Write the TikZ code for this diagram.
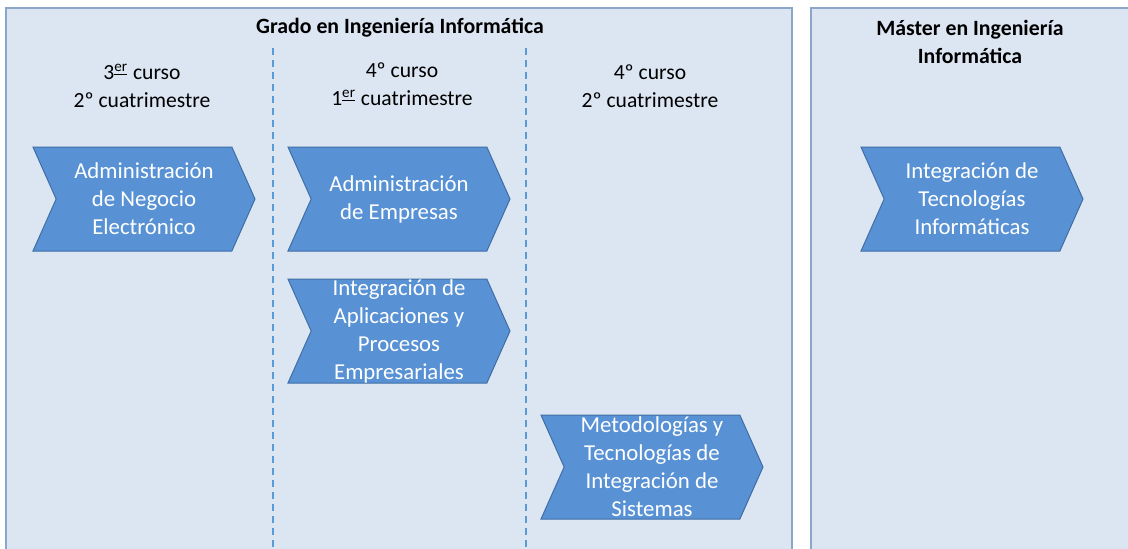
\documentclass[tikz,border=0pt]{standalone}
\usepackage{fontspec}
\setmainfont{Carlito}
\usepackage{xcolor}
\usetikzlibrary{shapes.symbols, positioning, calc}

\definecolor{panelfill}{RGB}{220,230,242}
\definecolor{panelline}{RGB}{140,166,200}
\definecolor{chevfill}{RGB}{88,146,213}
\definecolor{chevline}{RGB}{64,110,165}
\definecolor{sepline}{RGB}{91,155,213}

\tikzset{
  chevron/.style={signal, signal to=east, signal from=west, signal pointer angle=132,
    fill=chevfill, draw=chevline, line width=0.5pt, text=white,
    minimum width=111pt, minimum height=52pt, inner sep=0pt,
    align=center, font=\fontsize{11.4}{14}\selectfont},
  header/.style={align=center, font=\fontsize{10.8}{14}\selectfont},
  panel/.style={fill=panelfill, draw=panelline, line width=0.8pt}
}
\newcommand{\ord}[1]{\textsuperscript{\underline{#1}}}

\begin{document}
\begin{tikzpicture}[x=0.5pt, y=-0.5pt]
\clip (0,0) rectangle (1128,548);
\fill[white] (0,0) rectangle (1128,548);

% Panels
\draw[panel] (6,8) rectangle (792,560);
\draw[panel] (811,8) rectangle (1140,560);

% Separators between semesters
\foreach \x in {273,526} {
    \draw[sepline, line width=1pt, dash pattern=on 3.5pt off 2.5pt] (\x,48) -- (\x,548);
}

% Titles
\node[font=\fontsize{10.9}{14}\selectfont\bfseries] (grado) at (400,28) {Grado en Ingeniería Informática};
\node[align=center, font=\fontsize{10.9}{14}\selectfont\bfseries] (master) at (970,42) {Máster en Ingeniería\\Informática};

% Column headers
\node[header] (sem1) at (142,86) {3\ord{er} curso\\2º cuatrimestre};
\node[header] (sem2) at (402,84) {4º curso\\1\ord{er} cuatrimestre};
\node[header] (sem3) at (650,86) {4º curso\\2º cuatrimestre};

% Subjects
\node[chevron] (ane) at (144,199) {Administración\\de Negocio\\Electrónico};
\node[chevron] (ade) at (399,199) {Administración\\de Empresas};
\node[chevron] (iape) at (399,331) {Integración de\\Aplicaciones y\\Procesos\\Empresariales};
\node[chevron] (mtis) at (652,467) {Metodologías y\\Tecnologías de\\Integración de\\Sistemas};
\node[chevron] (iti) at (972,199) {Integración de\\Tecnologías\\Informáticas};
\end{tikzpicture}
\end{document}
